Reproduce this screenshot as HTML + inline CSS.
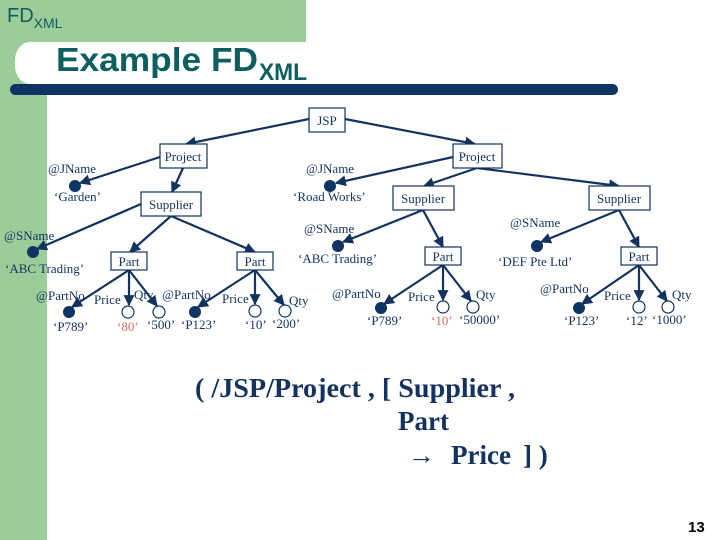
<!DOCTYPE html>
<html><head><meta charset="utf-8"><style>
html,body{margin:0;padding:0;background:#fff}
svg{display:block}
</style></head><body>
<svg width="720" height="540" viewBox="0 0 720 540" xmlns="http://www.w3.org/2000/svg">
<defs><marker id="a" viewBox="0 0 10 10" refX="9" refY="5" markerWidth="5" markerHeight="5" orient="auto"><path d="M0,0L10,5L0,10z" fill="#13325e"/></marker></defs>
<rect x="0" y="0" width="47" height="540" fill="#9dcc9b"/>
<rect x="0" y="0" width="306" height="42" fill="#9dcc9b"/>
<rect x="15" y="42" width="30" height="42" rx="18" fill="#fff"/>
<rect x="30" y="42" width="276" height="42" fill="#fff"/>
<rect x="10" y="84" width="608" height="11" rx="5.5" fill="#0d3462"/>
<text x="7" y="22" font-family="Liberation Sans" font-size="20" fill="#0d5f5f">FD<tspan font-size="14" dy="6">XML</tspan></text>
<text x="56" y="71" font-family="Liberation Sans" font-weight="bold" font-size="33" fill="#0d5f5f" textLength="202" lengthAdjust="spacingAndGlyphs">Example FD</text>
<text x="259" y="80" font-family="Liberation Sans" font-weight="bold" font-size="24" fill="#0d5f5f" textLength="48" lengthAdjust="spacingAndGlyphs">XML</text>
<g stroke="#13325e" stroke-width="2.2" fill="none" marker-end="url(#a)">
<line x1="309" y1="119" x2="186" y2="144"/>
<line x1="345" y1="119" x2="475" y2="144"/>
<line x1="160" y1="157" x2="80" y2="183"/>
<line x1="183" y1="168" x2="172" y2="192"/>
<line x1="141" y1="204" x2="37" y2="249"/>
<line x1="171" y1="216" x2="130" y2="252"/>
<line x1="171" y1="216" x2="255" y2="252"/>
<line x1="129" y1="270" x2="72" y2="307"/>
<line x1="129" y1="270" x2="129" y2="305"/>
<line x1="129" y1="270" x2="157" y2="306"/>
<line x1="255" y1="270" x2="198" y2="307"/>
<line x1="255" y1="270" x2="255" y2="304"/>
<line x1="255" y1="270" x2="284" y2="305"/>
<line x1="453" y1="157" x2="336" y2="183"/>
<line x1="477" y1="168" x2="424" y2="186"/>
<line x1="477" y1="168" x2="619" y2="186"/>
<line x1="423" y1="210" x2="343" y2="242"/>
<line x1="423" y1="210" x2="443" y2="247"/>
<line x1="619" y1="210" x2="541" y2="242"/>
<line x1="619" y1="210" x2="639" y2="247"/>
<line x1="443" y1="265" x2="384" y2="304"/>
<line x1="443" y1="265" x2="443" y2="300"/>
<line x1="443" y1="265" x2="471" y2="301"/>
<line x1="639" y1="265" x2="582" y2="304"/>
<line x1="639" y1="265" x2="639" y2="300"/>
<line x1="639" y1="265" x2="667" y2="301"/>
</g>
<g fill="#fff" stroke="#13325e" stroke-width="1.2">
<rect x="309" y="108" width="36" height="24"/>
<rect x="160" y="144" width="47" height="24"/>
<rect x="453" y="144" width="49" height="24"/>
<rect x="141" y="192" width="60" height="24"/>
<rect x="393" y="186" width="61" height="24"/>
<rect x="589" y="186" width="61" height="24"/>
<rect x="111" y="252" width="36" height="18"/>
<rect x="237" y="252" width="36" height="18"/>
<rect x="425" y="247" width="36" height="18"/>
<rect x="621" y="247" width="36" height="18"/>
<circle cx="128" cy="312" r="6"/><circle cx="159" cy="312" r="6"/>
<circle cx="255" cy="311" r="6"/><circle cx="285" cy="311" r="6"/>
<circle cx="443" cy="307" r="6"/><circle cx="473" cy="307" r="6"/>
<circle cx="639" cy="307" r="6"/><circle cx="668" cy="307" r="6"/>
</g>
<g fill="#0d3462">
<circle cx="75" cy="186" r="6"/><circle cx="330" cy="186" r="6"/>
<circle cx="33" cy="252" r="6"/><circle cx="338" cy="246" r="6"/><circle cx="537" cy="246" r="6"/>
<circle cx="69" cy="312" r="6"/><circle cx="195" cy="312" r="6"/><circle cx="381" cy="308" r="6"/><circle cx="579" cy="308" r="6"/>
</g>
<g font-family="Liberation Serif" font-size="13" fill="#13325e" text-anchor="middle">
<text x="327" y="125">JSP</text>
<text x="183" y="161">Project</text>
<text x="477" y="161">Project</text>
<text x="171" y="209">Supplier</text>
<text x="423" y="203">Supplier</text>
<text x="619" y="203">Supplier</text>
<text x="129" y="266">Part</text><text x="255" y="266">Part</text>
<text x="443" y="261">Part</text><text x="639" y="261">Part</text>
</g>
<g font-family="Liberation Serif" font-size="13" fill="#13325e">
<text x="48" y="173">@JName</text><text x="54" y="201">‘Garden’</text>
<text x="306" y="173">@JName</text><text x="293" y="201">‘Road Works’</text>
<text x="4" y="240">@SName</text><text x="5" y="273">‘ABC Trading’</text>
<text x="304" y="233">@SName</text><text x="298" y="263">‘ABC Trading’</text>
<text x="510" y="227">@SName</text><text x="498" y="266">‘DEF Pte Ltd’</text>
<text x="36" y="300">@PartNo</text><text x="94" y="304">Price</text><text x="134" y="299">Qty</text>
<text x="162" y="299">@PartNo</text><text x="222" y="303">Price</text><text x="289" y="305">Qty</text>
<text x="332" y="298">@PartNo</text><text x="408" y="301">Price</text><text x="476" y="299">Qty</text>
<text x="540" y="293">@PartNo</text><text x="604" y="300">Price</text><text x="672" y="299">Qty</text>
<text x="53" y="331">‘P789’</text><text x="117" y="331" fill="#d96a6a">‘80’</text><text x="147" y="329">‘500’</text><text x="181" y="329">‘P123’</text>
<text x="245" y="329">‘10’</text><text x="272" y="328">‘200’</text>
<text x="367" y="325">‘P789’</text><text x="431" y="325" fill="#d96a6a">‘10’</text><text x="459" y="324">‘50000’</text>
<text x="564" y="325">‘P123’</text><text x="626" y="325">‘12’</text><text x="652" y="324">‘1000’</text>
</g>
<g font-family="Liberation Serif" font-weight="bold" font-size="27" fill="#13325e">
<text x="195" y="397" textLength="320" lengthAdjust="spacingAndGlyphs">( /JSP/Project , [ Supplier ,</text>
<text x="398" y="430">Part</text>
<text x="408" y="464">→</text>
<text x="451" y="464">Price</text>
<text x="523" y="464">] )</text>
</g>
<text x="688" y="532" font-family="Liberation Sans" font-weight="bold" font-size="15" fill="#000">13</text>
</svg>
</body></html>
